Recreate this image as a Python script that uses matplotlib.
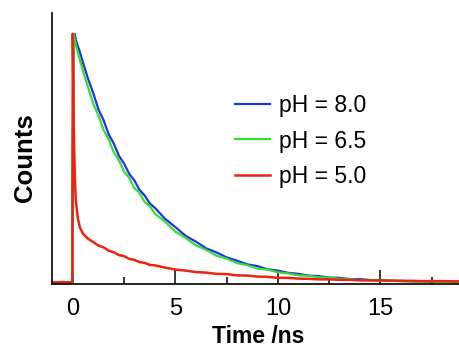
import matplotlib
matplotlib.use("Agg")
import matplotlib.pyplot as plt
from matplotlib.ticker import MultipleLocator

plt.rcParams['font.family'] = ['Liberation Sans', 'DejaVu Sans']

# time axis (ns)
time_ns = [-1.0, -0.5, -0.05, -0.02, 0.0, 0.05, 0.1, 0.15, 0.25, 0.35, 0.5, 0.75,
           1.0, 1.25, 1.5, 1.75, 2.0, 2.25, 2.5, 2.75, 3.0, 3.25, 3.5, 3.75, 4.0,
           4.5, 5.0, 5.5, 6.0, 6.5, 7.0, 7.5, 8.0, 8.5, 9.0, 9.5, 10.0, 10.5, 11.0,
           11.5, 12.0, 12.5, 13.0, 13.5, 14.0, 14.5, 15.0, 15.5, 16.0, 16.5, 17.0,
           17.5, 18.0, 18.5, 19.0]

# normalised counts
ph80 = [0.004, 0.003, 0.004, 0.004, 0.45, 0.99, 1.0, 0.975, 0.95, 0.925, 0.884, 0.819,
        0.762, 0.698, 0.655, 0.598, 0.561, 0.512, 0.481, 0.440, 0.414, 0.376, 0.354, 0.322, 0.304,
        0.260, 0.227, 0.192, 0.169, 0.142, 0.126, 0.106, 0.093, 0.078, 0.071, 0.058, 0.053,
        0.044, 0.040, 0.033, 0.031, 0.025, 0.024, 0.019, 0.019, 0.015, 0.015, 0.012, 0.012,
        0.010, 0.010, 0.008, 0.009, 0.007, 0.008]
ph65 = [0.004, 0.003, 0.004, 0.004, 0.6, 1.0, 0.975, 0.955, 0.925, 0.895, 0.85, 0.785,
        0.720, 0.674, 0.616, 0.578, 0.526, 0.494, 0.449, 0.424, 0.383, 0.364, 0.328, 0.311, 0.281,
        0.248, 0.209, 0.184, 0.154, 0.136, 0.113, 0.101, 0.083, 0.075, 0.061, 0.057, 0.046,
        0.042, 0.034, 0.032, 0.026, 0.025, 0.020, 0.019, 0.015, 0.015, 0.012, 0.013, 0.010,
        0.011, 0.008, 0.009, 0.007, 0.008, 0.006]
ph50 = [0.006, 0.007, 0.006, 0.008, 1.0, 0.62, 0.42, 0.33, 0.26, 0.225, 0.20, 0.18,
        0.167, 0.153, 0.146, 0.133, 0.126, 0.115, 0.111, 0.100, 0.096, 0.087, 0.084, 0.076, 0.074,
        0.065, 0.057, 0.053, 0.047, 0.045, 0.040, 0.039, 0.034, 0.033, 0.029, 0.028, 0.024,
        0.024, 0.021, 0.020, 0.018, 0.018, 0.016, 0.016, 0.014, 0.014, 0.013, 0.013, 0.012,
        0.012, 0.011, 0.011, 0.011, 0.010, 0.010]

fig = plt.figure(figsize=(4.59, 3.47), dpi=100)
ax = fig.add_axes([0.113, 0.182, 0.887, 0.781])

ax.plot(time_ns, ph80, color='#2233dd', lw=1.6, label='pH = 8.0')
ax.plot(time_ns, ph65, color='#33dd33', lw=1.6, label='pH = 6.5')
ax.plot(time_ns, ph50, color='#ee2211', lw=1.8, label='pH = 5.0')

ax.set_xlim(-1.02, 18.83)
ax.set_ylim(0, 1.084)

ax.spines['top'].set_visible(False)
ax.spines['right'].set_visible(False)
ax.spines['left'].set_linewidth(1.2)
ax.spines['bottom'].set_linewidth(1.2)

ax.xaxis.set_major_locator(MultipleLocator(5))
ax.xaxis.set_minor_locator(MultipleLocator(2.5))
ax.tick_params(axis='x', which='major', direction='in', length=10, width=1.1,
               labelsize=17, pad=10)
ax.tick_params(axis='x', which='minor', direction='in', length=5, width=1.1)
ax.set_yticks([])

ax.set_xlabel('Time /ns', fontsize=16.5, fontweight='bold')
ax.xaxis.set_label_coords(0.507, -0.152)
ax.set_ylabel('Counts', fontsize=18.5, fontweight='bold')
ax.yaxis.set_label_coords(-0.037, 0.465)

ax.legend(loc='upper left', bbox_to_anchor=(0.45, 0.70), frameon=False,
          fontsize=16.5, handlelength=1.53, handletextpad=0.4, labelspacing=0.54,
          borderpad=0, borderaxespad=0)

fig.savefig('out.png', dpi=100, facecolor='white')
